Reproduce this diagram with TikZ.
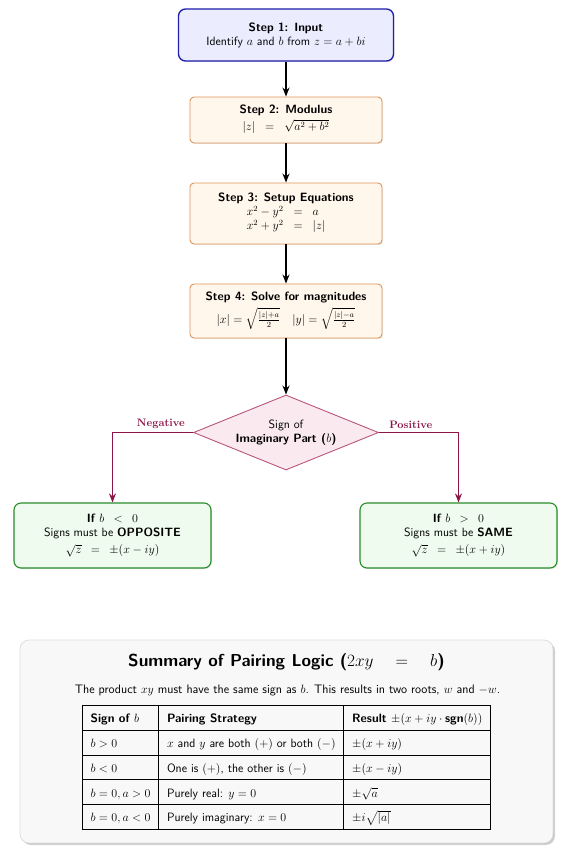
\documentclass[tikz,border=0pt]{standalone}
\usepackage{amssymb}
\usepackage{amsmath}
\usepackage{xcolor}
\usepackage{tikz}
\usetikzlibrary{
    positioning,
    arrows.meta,
    shapes.geometric,
    shadows
}
\definecolor{stepBlue}{RGB}{30, 30, 170}
\definecolor{stepBlueFill}{RGB}{236, 236, 255}
\definecolor{stepOrange}{RGB}{222, 150, 90}
\definecolor{stepOrangeFill}{RGB}{255, 246, 236}
\definecolor{signRose}{RGB}{185, 85, 125}
\definecolor{signRoseFill}{RGB}{250, 234, 240}
\definecolor{branchRed}{RGB}{140, 20, 70}
\definecolor{caseGreen}{RGB}{40, 140, 40}
\definecolor{caseGreenFill}{RGB}{238, 251, 238}
\definecolor{summaryGray}{RGB}{222, 222, 222}
\definecolor{summaryFill}{RGB}{248, 248, 248}

\begin{document}
\begin{tikzpicture}[x=1pt, y=-1pt, font=\sffamily\large,
    box/.style={rectangle, rounded corners=4pt, align=center, inner sep=3pt,
        drop shadow={opacity=0.2, shadow xshift=1pt, shadow yshift=-1pt}},
    inputbox/.style={box, draw=stepBlue, fill=stepBlueFill, line width=1.3pt,
        rounded corners=7pt, minimum width=215pt, minimum height=52pt},
    stepbox/.style={box, draw=stepOrange, fill=stepOrangeFill, line width=0.9pt,
        minimum width=192pt},
    casebox/.style={box, draw=caseGreen, fill=caseGreenFill, line width=1.1pt,
        rounded corners=7pt, minimum width=197pt, minimum height=65pt},
    signbox/.style={diamond, draw=signRose, fill=signRoseFill, line width=0.9pt,
        align=center, aspect=2.47, minimum width=185pt, minimum height=75pt, inner sep=0pt},
    flow/.style={-{Stealth[length=9pt, width=7pt]}, line width=1.4pt},
    branch/.style={-{Stealth[length=9pt, width=7pt]}, line width=1.4pt, branchRed},
    branchlabel/.style={above, font=\rmfamily\bfseries\fontsize{10.8}{13}\selectfont, text=branchRed}
]
    \useasboundingbox (0,0) rectangle (574,853);

    % main steps
    \node[inputbox] (input) at (286, 35)
        {\textbf{Step 1: Input}\\ Identify $a$ and $b$ from $z = a + bi$};
    \node[stepbox, minimum height=46pt] (modulus) at (286, 120)
        {\textbf{Step 2: Modulus}\\[3pt] $\begin{array}{rcl} |z| & = & \sqrt{a^2+b^2} \end{array}$};
    \node[stepbox, minimum height=61pt] (setup) at (286, 213.5)
        {\textbf{Step 3: Setup Equations}\\[1pt]
         $\begin{array}{rcl} x^2 - y^2 & = & a \\ x^2 + y^2 & = & |z| \end{array}$};
    \node[stepbox, minimum height=54pt] (solve) at (286, 311)
        {\textbf{Step 4: Solve for magnitudes}\\[4pt]
         $|x| = \sqrt{\frac{|z|+a}{2}} \quad |y| = \sqrt{\frac{|z|-a}{2}}$};

    % decision on b
    \node[signbox] (sign) at (286, 432.5) {Sign of\\ \textbf{Imaginary Part ($b$)}};

    \node[casebox] (negcase) at (112.5, 535.5)
        {\textbf{If} $b \enspace<\enspace 0$\\ Signs must be \textbf{OPPOSITE}\\[3pt]
         $\sqrt{z} \enspace=\enspace \pm(x - iy)$};
    \node[casebox] (poscase) at (458.5, 535.5)
        {\textbf{If} $b \enspace>\enspace 0$\\ Signs must be \textbf{SAME}\\[3pt]
         $\sqrt{z} \enspace=\enspace \pm(x + iy)$};

    \draw[flow] (input) -- (modulus);
    \draw[flow] (modulus) -- (setup);
    \draw[flow] (setup) -- (solve);
    \draw[flow] (solve) -- (sign);
    \draw[branch] (sign.west) -| node[branchlabel, pos=0.2] {Negative} (negcase.north);
    \draw[branch] (sign.east) -| node[branchlabel, pos=0.2] {Positive} (poscase.north);

    % summary panel
    \node[box, draw=summaryGray, fill=summaryFill, line width=0.8pt, rounded corners=9pt,
        minimum width=533pt, minimum height=203pt,
        drop shadow={opacity=0.35, shadow xshift=2pt, shadow yshift=-2pt}] (summary) at (286.5, 741.5) {};
    \node[font=\sffamily\LARGE] (title) at (286.5, 662)
        {\textbf{Summary of Pairing Logic ($2xy \quad = \quad b$)}};
    \node[font=\sffamily\fontsize{12.3}{14.5}\selectfont] (note) at (287.5, 690)
        {The product $xy$ must have the same sign as $b$. This results in two roots, $w$ and $-w$.};
    \node[font=\sffamily\fontsize{12.1}{14.5}\selectfont, inner sep=0pt] (table) at (286.5, 767.5)
        {\renewcommand{\arraystretch}{1.65}\setlength{\arrayrulewidth}{0.9pt}%
         \setlength{\tabcolsep}{8.3pt}%
         \begin{tabular}{|l|l|l|}
         \hline
         \textbf{Sign of $b$} & \textbf{Pairing Strategy} & \textbf{Result $\pm(x + iy \cdot \text{sgn}(b))$} \\ \hline
         $b > 0$ & $x$ and $y$ are both $(+)$ or both $(-)$ & $\pm(x + iy)$ \\ \hline
         $b < 0$ & One is $(+)$, the other is $(-)$ & $\pm(x - iy)$ \\ \hline
         $b = 0, a > 0$ & Purely real: $y = 0$ & $\pm\sqrt{a}$ \\ \hline
         $b = 0, a < 0$ & Purely imaginary: $x = 0$ & $\pm i\sqrt{|a|}$ \\ \hline
         \end{tabular}};
\end{tikzpicture}
\end{document}
